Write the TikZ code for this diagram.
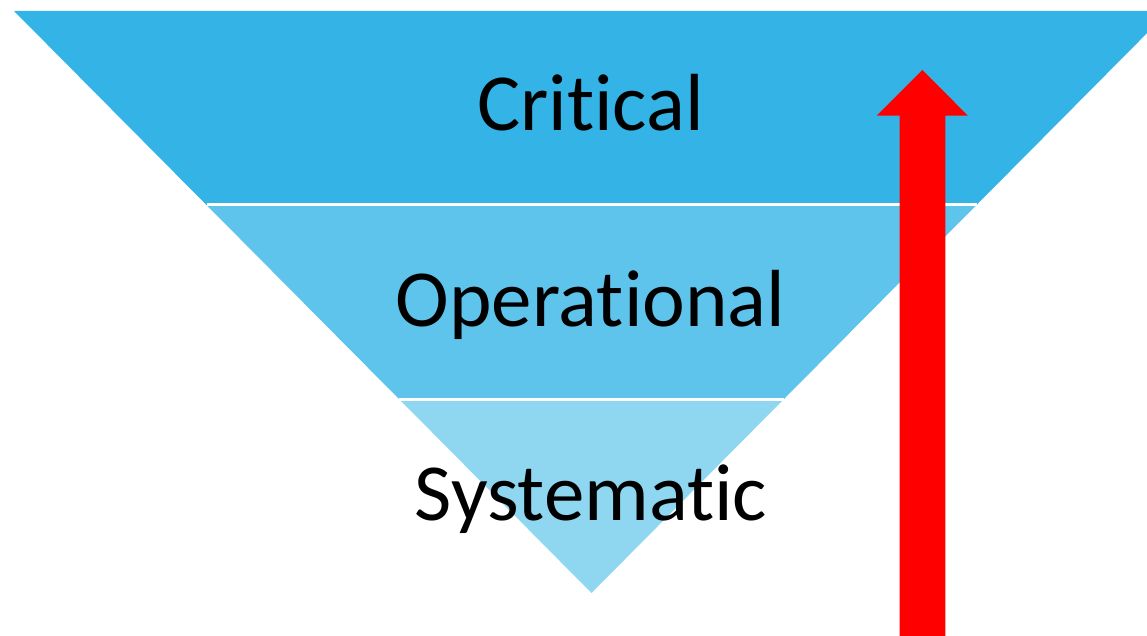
\documentclass[tikz,border=0pt]{standalone}
\usepackage{fontspec}
\setmainfont[Ligatures=NoCommon,RawFeature={-liga;-clig;-dlig}]{Carlito}
\definecolor{bandA}{HTML}{34B3E6}
\definecolor{bandB}{HTML}{5FC4EC}
\definecolor{bandC}{HTML}{8FD6F1}
\definecolor{arrowred}{HTML}{FF0000}
\begin{document}
\begin{tikzpicture}[x=1pt,y=1pt,
  band/.style={draw=none},
  divider/.style={draw=white,line width=3pt},
  levellabel/.style={anchor=base,inner sep=0pt,font=\fontsize{81}{90}\selectfont,text=black}]
\useasboundingbox (0,0) rectangle (1147,635);
\clip (0,0) rectangle (1147,635);
% corner points of the inverted triangle and its band boundaries
\coordinate (tl) at (14,624);
\coordinate (tr) at (1169,624);
\coordinate (l1) at (206.5,430);
\coordinate (r1) at (976.5,430);
\coordinate (l2) at (399,236);
\coordinate (r2) at (784,236);
\coordinate (apex) at (591.5,42);
% three stacked bands
\fill[band,bandA] (tl) -- (tr) -- (r1) -- (l1) -- cycle;
\fill[band,bandB] (l1) -- (r1) -- (r2) -- (l2) -- cycle;
\fill[band,bandC] (l2) -- (r2) -- (apex) -- cycle;
\draw[divider] (l1) -- (r1);
\draw[divider] (l2) -- (r2);
% labels
\node[levellabel] (critical) at (590.5,504.3) {Critical};
\node[levellabel] (operational) at (590.5,308.3) {Operational};
\node[levellabel] (systematic) at (591,115) {Systematic};
% upward arrow
\coordinate (arrowtip) at (922.3,565);
\fill[arrowred] (899.5,-5) -- (899.5,519.3) -- (876.7,519.3) -- (arrowtip)
  -- (967.9,519.3) -- (945.3,519.3) -- (945.3,-5) -- cycle;
\end{tikzpicture}
\end{document}
